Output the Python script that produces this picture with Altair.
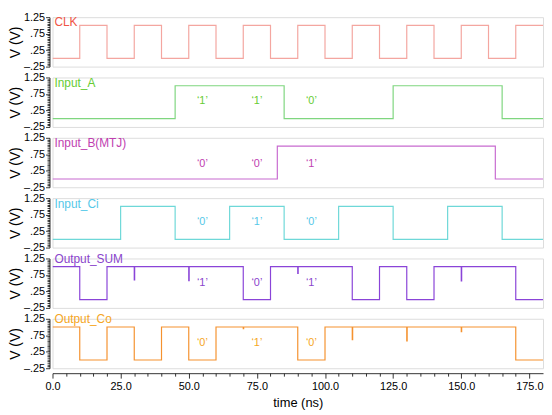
import altair as alt
import pandas as pd

FONT = "Liberation Sans"

# ---- data ----
clk_t = [0, 10, 20, 30, 40, 50, 60, 70, 80, 90, 100, 110, 120, 130, 140, 150, 160, 170, 180]
clk_v = [0, 1, 0, 1, 0, 1, 0, 1, 0, 1, 0, 1, 0, 1, 0, 1, 0, 1, 1]

a_t = [0, 45, 85, 125, 165, 180]
a_v = [0, 1, 0, 1, 0, 0]

b_t = [0, 82.5, 162.5, 180]
b_v = [0, 1, 0, 0]

ci_t = [0, 25, 45, 65, 85, 105, 125, 145, 165, 180]
ci_v = [0, 1, 0, 1, 0, 1, 0, 1, 0, 0]

sum_t = [0, 10, 20, 30, 30.15, 50, 50.15, 70, 80, 90, 90.15, 110, 120, 130, 140, 150, 150.15, 170, 180]
sum_v = [1, 0, 1, 0.6, 1, 0.58, 1, 0, 1, 0.8, 1, 0, 1, 0, 1, 0.57, 1, 0, 0]

co_t = [0, 10, 20, 30, 40, 50, 60, 70, 70.15, 90, 100, 110, 110.15, 130, 130.15, 150, 150.15, 170, 180]
co_v = [1, 0, 1, 0, 1, 0, 1, 0.95, 1, 0, 1, 0.62, 1, 0.58, 1, 0.86, 1, 0, 0]

names = ["CLK", "Input_A", "Input_B(MTJ)", "Input_Ci", "Output_SUM", "Output_Co"]
name_y = [1.09, 1.08, 1.08, 1.08, 1.24, 1.25]
line_colors = ["#F4A6A0", "#7FD67F", "#C86BD0", "#6ED8D8", "#8A44D8", "#F5922F"]
text_colors = ["#F05545", "#66CC33", "#C040B0", "#55C8E8", "#8A44CC", "#F5A623"]

ann_x = [55, 75, 95]
ann_texts = [
    [],
    ["\u20181\u2019", "\u20181\u2019", "\u20180\u2019"],
    ["\u20180\u2019", "\u20180\u2019", "\u20181\u2019"],
    ["\u20180\u2019", "\u20181\u2019", "\u20180\u2019"],
    ["\u20181\u2019", "\u20180\u2019", "\u20181\u2019"],
    ["\u20180\u2019", "\u20181\u2019", "\u20180\u2019"],
]
ann_y = [0.5, 0.54, 0.46, 0.51, 0.49, 0.51]

series = [(clk_t, clk_v), (a_t, a_v), (b_t, b_v), (ci_t, ci_v), (sum_t, sum_v), (co_t, co_v)]

# ---- axes ----
y_ticks = [round(-0.25 + 0.05 * i, 2) for i in range(31)]
major_y = "(abs(datum.value-1.25)<0.01 || abs(datum.value-0.75)<0.01 || abs(datum.value-0.25)<0.01 || abs(datum.value+0.25)<0.01)"
y_axis = alt.Axis(
    values=y_ticks,
    labelExpr="abs(datum.value-1.25)<0.01 ? '1.25' : abs(datum.value-0.75)<0.01 ? '.75' : abs(datum.value-0.25)<0.01 ? '.25' : abs(datum.value+0.25)<0.01 ? '\u2013.25' : ''",
    tickSize={"condition": {"test": major_y, "value": 4}, "value": 2.5},
    labelOverlap=False,
    labelBound=False,
    labelFlush=False,
    grid=False,
    offset=3,
    title="V (V)",
    titleFont=FONT,
    titleFontSize=14,
    titleFontWeight="normal",
    titleColor="black",
    titlePadding=1,
    labelFont=FONT,
    labelFontSize=11,
    labelColor="black",
    labelPadding=1,
    domainColor="black",
    tickColor="black",
    tickWidth=0.8,
    domainWidth=0.8,
)

x_ticks = [5 * i for i in range(36)]
x_axis = alt.Axis(
    values=x_ticks,
    labelExpr="datum.value % 25 == 0 ? format(datum.value, '.1f') : ''",
    tickSize={"condition": {"test": "datum.value % 25 == 0", "value": 5}, "value": 3},
    labelOverlap=False,
    labelFlush=False,
    grid=False,
    offset=5,
    title="time (ns)",
    titleFont=FONT,
    titleFontSize=13,
    titleFontWeight="normal",
    titleColor="black",
    titlePadding=5,
    labelFont=FONT,
    labelFontSize=11,
    labelColor="black",
    labelPadding=3,
    domainColor="black",
    tickColor="black",
    tickWidth=0.8,
    domainWidth=0.8,
)


def panel(i):
    bottom = i == len(names) - 1
    t, v = series[i]
    xs = alt.Scale(domain=[0, 180], nice=False, zero=False)
    ys = alt.Scale(domain=[-0.25, 1.25], nice=False, zero=False)
    x_enc = alt.X("t:Q", scale=xs, axis=x_axis if bottom else None)
    y_enc = alt.Y("v:Q", scale=ys, axis=y_axis)

    line = alt.Chart(pd.DataFrame({"t": t, "v": v})).mark_line(
        interpolate="step-after", color=line_colors[i], strokeWidth=1.2, clip=True
    ).encode(x=x_enc, y=y_enc)

    name = alt.Chart(pd.DataFrame({"t": [0.7], "v": [name_y[i]], "s": [names[i]]})).mark_text(
        align="left", baseline="middle", color=text_colors[i], fontSize=12, font=FONT
    ).encode(x=x_enc, y=y_enc, text="s:N")

    layers = [line, name]
    if ann_texts[i]:
        ann = alt.Chart(pd.DataFrame({"t": ann_x, "v": [ann_y[i]] * 3, "s": ann_texts[i]})).mark_text(
            align="center", baseline="middle", color=text_colors[i], fontSize=11, font=FONT
        ).encode(x=x_enc, y=y_enc, text="s:N")
        layers.append(ann)
    return alt.layer(*layers).properties(width=496, height=50)


chart = alt.vconcat(*[panel(i) for i in range(len(names))], spacing=11, bounds="flush").properties(
    padding=0
).configure_view(stroke=None).configure(background="white")

chart.save("out.html", embed_options={"renderer": "svg", "actions": False})
